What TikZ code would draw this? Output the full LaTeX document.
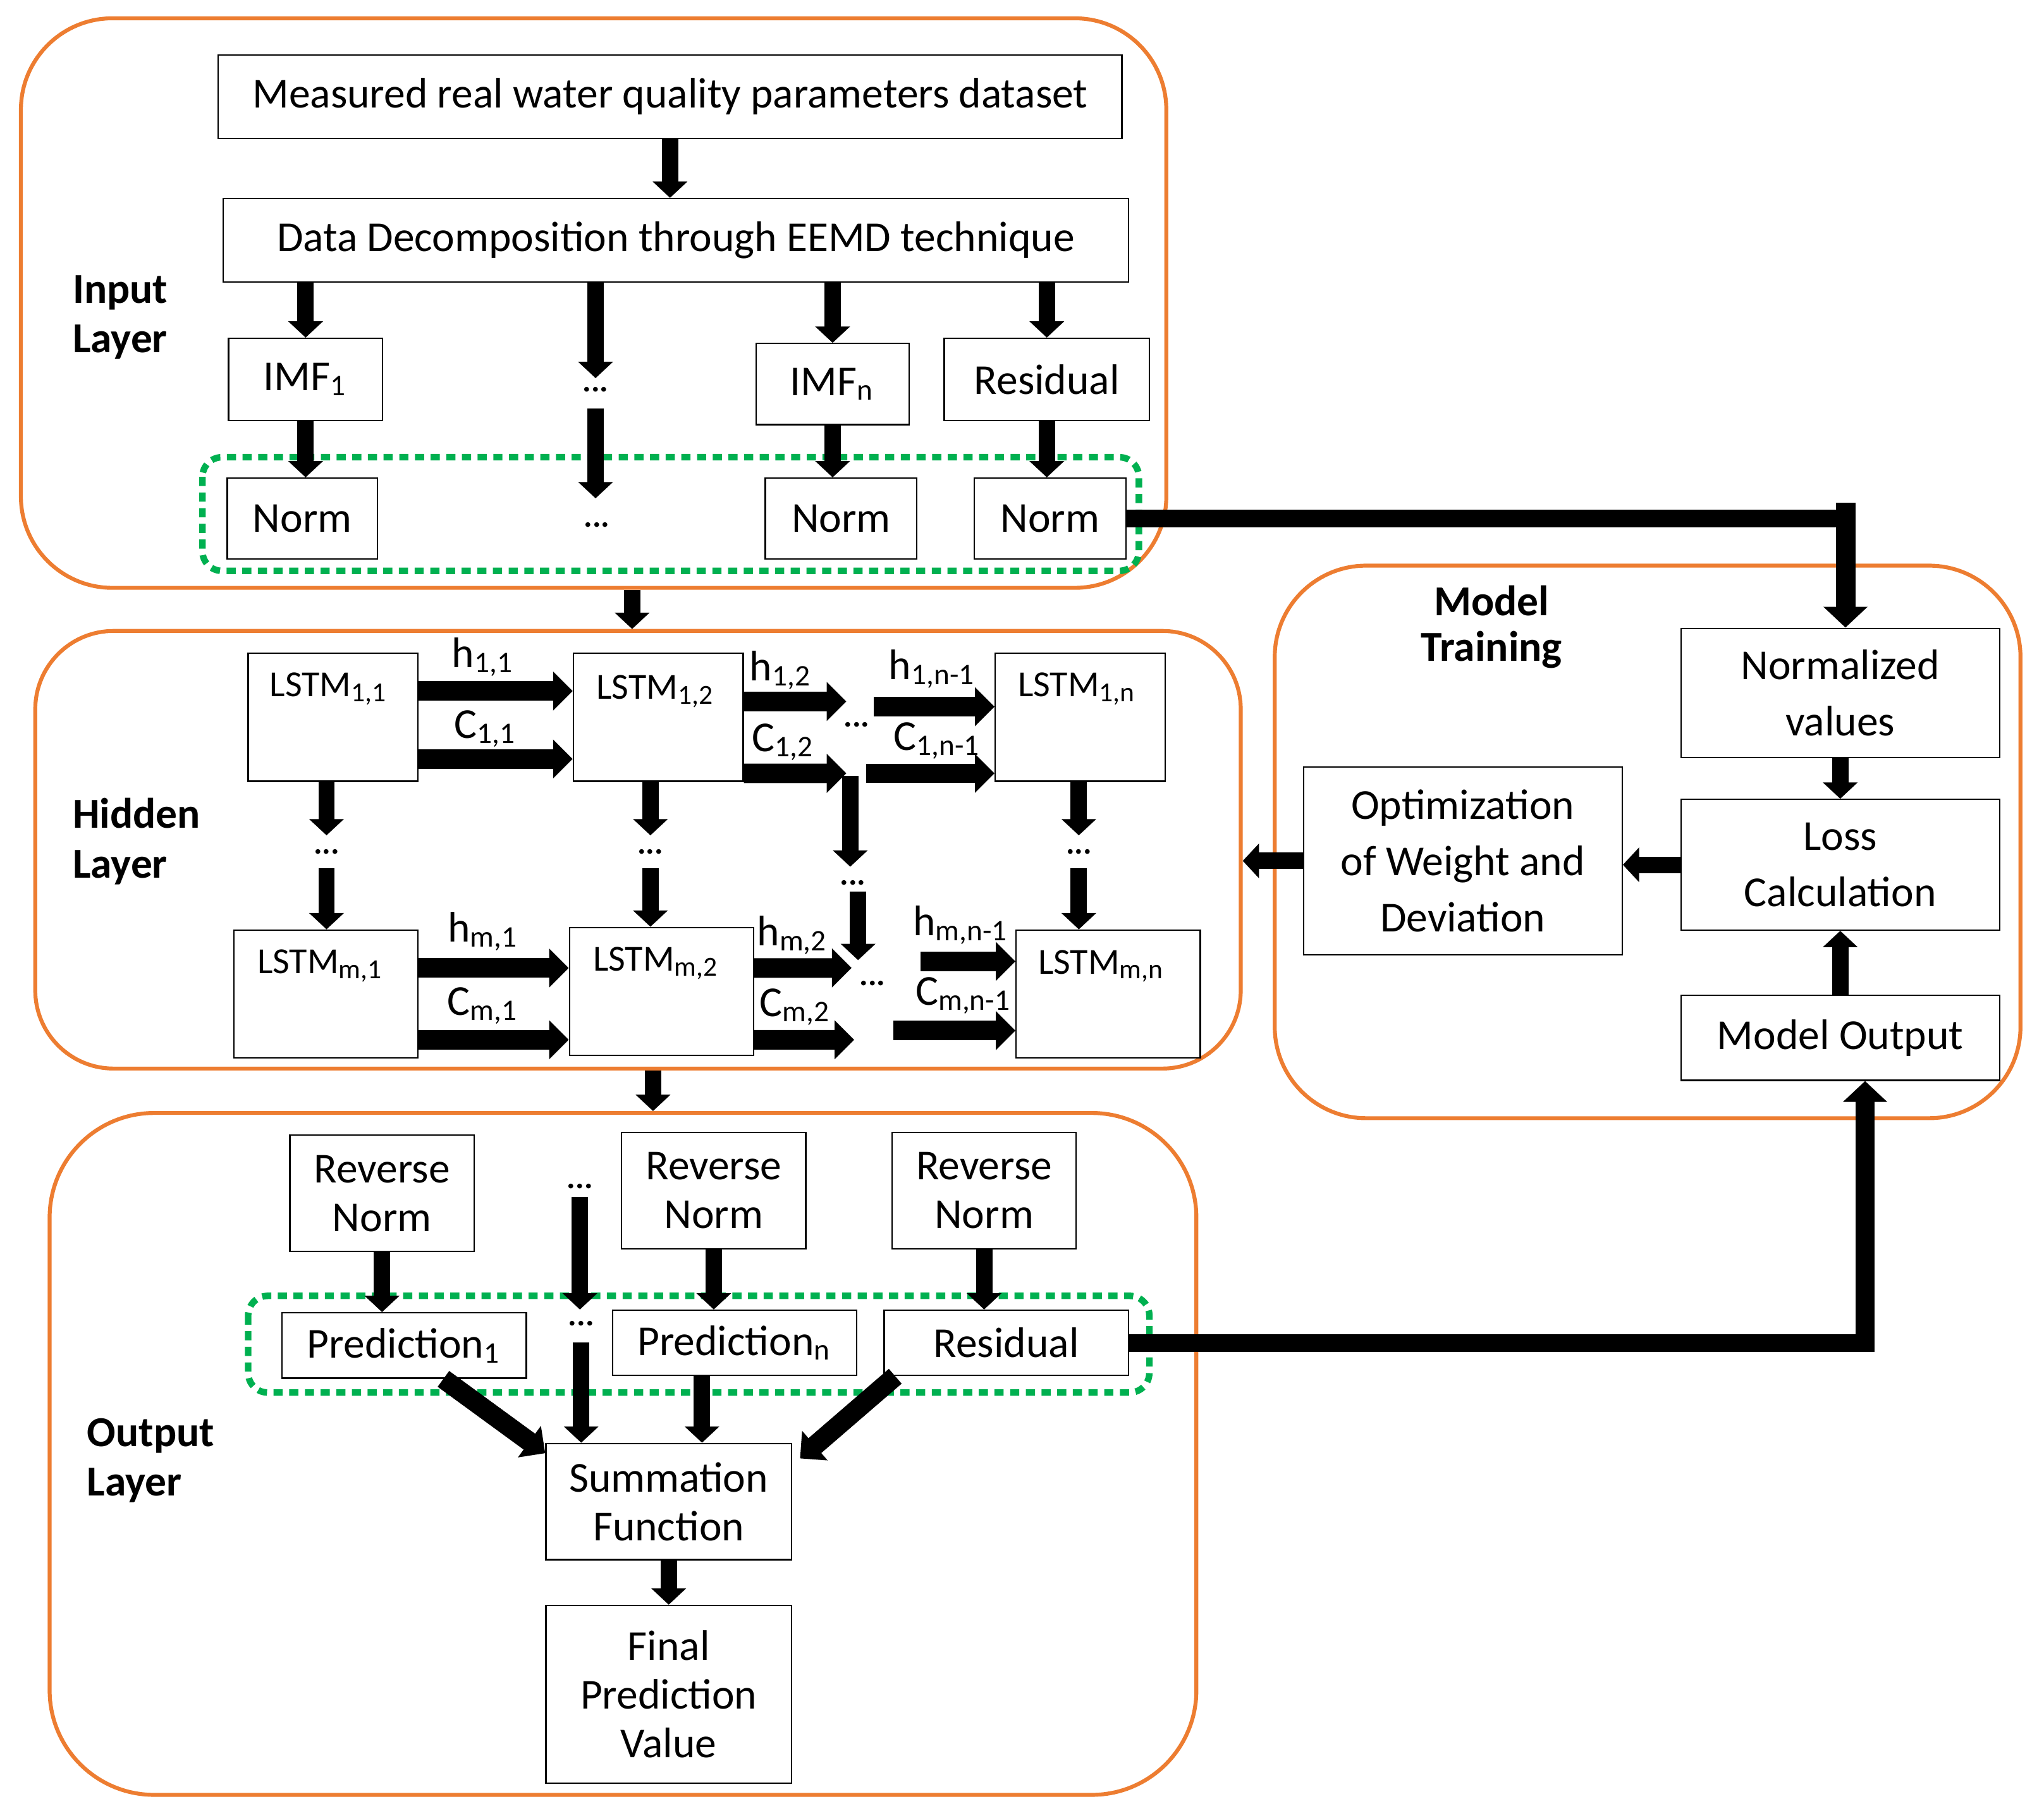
\documentclass[tikz,border=0pt]{standalone}
\usepackage{fontspec}
\setmainfont{Carlito}
\usetikzlibrary{arrows.meta}
\definecolor{layerorange}{RGB}{237,125,49}
\definecolor{groupgreen}{RGB}{0,176,80}
\tikzset{
    layer/.style={draw=layerorange, line width=0.3mm, inner sep=0pt},
    group/.style={draw=groupgreen, line width=0.5mm, dash pattern=on 0.7mm off 0.5mm, rounded corners=1.5mm},
    box/.style={draw, line width=0.11mm, inner sep=0pt, align=center, font=\fontsize{9.3}{10.6}\selectfont},
    trainbox/.style={box, font=\fontsize{9.3}{12.2}\selectfont},
    cellbox/.style={draw, line width=0.11mm, inner sep=0pt, minimum height=9.8mm},
    celltext/.style={inner sep=0pt, font=\fontsize{8}{9}\selectfont},
    statetext/.style={inner sep=0pt, font=\fontsize{9.3}{10}\selectfont},
    layername/.style={anchor=west, align=left, inner sep=0pt, font=\bfseries\fontsize{9.3}{10.8}\selectfont},
    trainname/.style={align=center, inner sep=0pt, font=\bfseries\fontsize{9.3}{10}\selectfont},
    dots/.style={inner sep=0pt, font=\bfseries\fontsize{7}{8}\selectfont},
    flow/.style={line width=1.25mm, -{Triangle[width=2.6mm,length=1.25mm]}},
    link/.style={line width=1.5mm, -{Triangle[width=2.9mm,length=1.5mm]}},
    bus/.style={line width=1.35mm},
    busflow/.style={line width=1.5mm, -{Triangle[width=3.3mm,length=1.6mm]}},
}
\begin{document}
\begin{tikzpicture}[x=0.1mm,y=-0.1mm]
            \useasboundingbox (0,0) rectangle (1565,1386);%

            % Layer frames
            \node[layer, rounded corners=7mm, minimum width=87.7mm, minimum height=43.6mm] (inputlayer) at (454.5,232) {};%
            \node[layer, rounded corners=6mm, minimum width=92.3mm, minimum height=33.5mm] (hiddenlayer) at (488.5,650.5) {};%
            \node[layer, rounded corners=8mm, minimum width=87.8mm, minimum height=52.2mm] (outputlayer) at (477,1113) {};%
            \node[layer, rounded corners=7mm, minimum width=57.1mm, minimum height=42.3mm] (traininglayer) at (1261.5,644.5) {};%

            % Groups of normalised values
            \draw[group] (155,350) rectangle (872,437);%
            \draw[group] (190,992) rectangle (880,1066);%

            % Layer names
            \node[layername] (inputname) at (55,243) {Input\\Layer};%
            \node[layername] (hiddenname) at (55,644) {Hidden\\Layer};%
            \node[layername] (outputname) at (66,1118) {Output\\Layer};%
            \node[trainname] (trainname) at (1142,480) {Model\\Training};%

            % Input layer boxes
            \node[box, minimum width=69.2mm, minimum height=6.4mm] (meas) at (513,74) {Measured real water quality parameters dataset};%
            \node[box, minimum width=69.3mm, minimum height=6.4mm] (decomp) at (517.5,184) {Data Decomposition through EEMD technique};%
            \node[box, minimum width=11.8mm, minimum height=6.3mm] (imf1) at (234,290.5) {IMF\textsubscript{1}};%
            \node[box, minimum width=11.7mm, minimum height=6.2mm] (imfn) at (637.5,294) {IMF\textsubscript{n}};%
            \node[box, minimum width=15.7mm, minimum height=6.3mm] (resid) at (801.5,290.5) {Residual};%
            \node[box, minimum width=11.5mm, minimum height=6.2mm] (norm1) at (231.5,397) {Norm};%
            \node[box, minimum width=11.6mm, minimum height=6.2mm] (norm2) at (644,397) {Norm};%
            \node[box, minimum width=11.6mm, minimum height=6.2mm] (norm3) at (804,397) {Norm};%
            \node[dots] (dotsa) at (456,298) {...};%
            \node[dots] (dotsb) at (457,402) {...};%

            % Input layer arrows
            \draw[flow] (meas.south) -- (meas.south |- decomp.north);%
            \draw[flow] (imf1.north |- decomp.south) -- (imf1.north);%
            \draw[flow, shorten >=0.6mm] (dotsa |- decomp.south) -- (dotsa.north);%
            \draw[flow] (imfn.north |- decomp.south) -- (imfn.north);%
            \draw[flow] (resid.north |- decomp.south) -- (resid.north);%
            \draw[flow] (imf1.south) -- (imf1.south |- norm1.north);%
            \draw[flow, shorten <=1.2mm, shorten >=1.8mm] (dotsa.south) -- (dotsa.south |- dotsb.north);%
            \draw[flow] (imfn.south) -- (imfn.south |- norm2.north);%
            \draw[flow] (resid.south) -- (resid.south |- norm3.north);%

            % Hidden layer cells
            \node[cellbox, minimum width=13.0mm] (l11) at (255,549) {};%
            \node[cellbox, minimum width=13.0mm] (l12) at (504,549) {};%
            \node[cellbox, minimum width=13.0mm] (l1n) at (827,549) {};%
            \node[cellbox, minimum width=14.1mm] (lm1) at (249.5,761) {};%
            \node[cellbox, minimum width=14.1mm] (lm2) at (506.5,759) {};%
            \node[cellbox, minimum width=14.1mm] (lmn) at (848.5,761) {};%
            \path (l11.north) ++(-3,28) node[celltext] (l11text) {LSTM\textsubscript{1,1}};%
            \path (l12.north) ++(-2,30) node[celltext] (l12text) {LSTM\textsubscript{1,2}};%
            \path (l1n.north) ++(-2,28) node[celltext] (l1ntext) {LSTM\textsubscript{1,n}};%
            \path (lm1.north) ++(-4,28) node[celltext] (lm1text) {LSTM\textsubscript{m,1}};%
            \path (lm2.north) ++(-4,28) node[celltext] (lm2text) {LSTM\textsubscript{m,2}};%
            \path (lmn.north) ++(-5,28) node[celltext] (lmntext) {LSTM\textsubscript{m,n}};%

            % Hidden and cell states
            \node[statetext] (h11) at (370,503) {h\textsubscript{1,1}};%
            \node[statetext] (c11) at (372,558) {C\textsubscript{1,1}};%
            \node[statetext] (h12) at (598,513) {h\textsubscript{1,2}};%
            \node[statetext] (c12) at (600,568) {C\textsubscript{1,2}};%
            \node[statetext] (h1n) at (714,512) {h\textsubscript{1,n-1}};%
            \node[statetext] (c1n) at (718,567) {C\textsubscript{1,n-1}};%
            \node[statetext] (hm1) at (370,713) {h\textsubscript{m,1}};%
            \node[statetext] (cm1) at (370,770) {C\textsubscript{m,1}};%
            \node[statetext] (hm2) at (607,716) {h\textsubscript{m,2}};%
            \node[statetext] (cm2) at (609,771) {C\textsubscript{m,2}};%
            \node[statetext] (hmn) at (736,708) {h\textsubscript{m,n-1}};%
            \node[statetext] (cmn) at (738,762) {C\textsubscript{m,n-1}};%
            \node[dots] (dotsr1) at (656,555) {...};%
            \node[dots] (dotsr2) at (668,753) {...};%
            \node[dots] (dotsc1) at (250,652) {...};%
            \node[dots] (dotsc2) at (498,652) {...};%
            \node[dots] (dotsc3) at (826,652) {...};%
            \node[dots] (dotsv) at (653,676) {...};%
            \coordinate (h12end) at (648,537);%
            \coordinate (c12end) at (648,592);%
            \coordinate (h1nstart) at (669,541);%
            \coordinate (c1nstart) at (663,592);%
            \coordinate (hm2end) at (652,741);%
            \coordinate (cm2end) at (654,796);%
            \coordinate (hmnstart) at (705,736);%
            \coordinate (cmnstart) at (684,789);%
            \coordinate (vdown) at (651,594);%
            \coordinate (vup) at (657,735);%

            % Arrows along the first row
            \draw[link] ([yshift=2mm]l11.east) -- ([yshift=2mm]l11.east -| l12.west);%
            \draw[link] ([yshift=-3.2mm]l11.east) -- ([yshift=-3.2mm]l11.east -| l12.west);%
            \draw[link] ([yshift=1.2mm]l12.east) -- (h12end);%
            \draw[link] ([yshift=-4.3mm]l12.east) -- (c12end);%
            \draw[link] (h1nstart) -- (h1nstart -| l1n.west);%
            \draw[link] (c1nstart) -- (c1nstart -| l1n.west);%

            % Arrows along the last row
            \draw[link] ([yshift=2mm]lm1.east) -- ([yshift=2mm]lm1.east -| lm2.west);%
            \draw[link] ([yshift=-3.5mm]lm1.east) -- ([yshift=-3.5mm]lm1.east -| lm2.west);%
            \draw[link] ([yshift=1.8mm]lm2.east) -- (hm2end);%
            \draw[link] ([yshift=-3.7mm]lm2.east) -- (cm2end);%
            \draw[link] (hmnstart) -- (hmnstart -| lmn.west);%
            \draw[link] (cmnstart) -- (cmnstart -| lmn.west);%

            % Arrows down the columns
            \draw[flow, shorten >=1mm] (dotsc1 |- l11.south) -- (dotsc1.north);%
            \draw[flow, shorten <=1mm] (dotsc1.south) -- (dotsc1 |- lm1.north);%
            \draw[flow, shorten >=1mm] (dotsc2 |- l12.south) -- (dotsc2.north);%
            \draw[flow, shorten <=1mm] (dotsc2.south) -- (dotsc2 |- lm2.north);%
            \draw[flow, shorten >=1mm] (dotsc3 |- l1n.south) -- (dotsc3.north);%
            \draw[flow, shorten <=1mm] (dotsc3.south) -- (dotsc3 |- lmn.north);%
            \draw[flow, shorten >=1mm] (vdown) -- (vdown |- dotsv.north);%
            \draw[flow, shorten <=0.4mm] (vup |- dotsv.south) -- (vup);%

            % Output layer boxes
            \node[box, minimum width=14.1mm, minimum height=8.9mm] (rn1) at (292.5,913.5) {Reverse\\Norm};%
            \node[box, minimum width=14.1mm, minimum height=8.9mm] (rn2) at (546.5,911.5) {Reverse\\Norm};%
            \node[box, minimum width=14.1mm, minimum height=8.9mm] (rn3) at (753.5,911.5) {Reverse\\Norm};%
            \node[box, minimum width=18.7mm, minimum height=5.0mm] (pred1) at (309.5,1030) {Prediction\textsubscript{1}};%
            \node[box, minimum width=18.7mm, minimum height=5.0mm] (predn) at (562.5,1028) {Prediction\textsubscript{n}};%
            \node[box, minimum width=18.7mm, minimum height=5.0mm] (resid2) at (770.5,1028) {Residual};%
            \node[box, minimum width=18.8mm, minimum height=8.9mm] (sum) at (512,1149.5) {Summation\\Function};%
            \node[box, minimum width=18.8mm, minimum height=13.6mm] (final) at (512,1297) {Final\\Prediction\\Value};%
            \node[dots] (dotso1) at (444,908) {...};%
            \node[dots] (dotso2) at (445,1013) {...};%

            % Output layer arrows
            \draw[flow] (rn1.south) -- (rn1.south |- pred1.north);%
            \draw[flow] (rn2.south) -- (rn2.south |- predn.north);%
            \draw[flow] (rn3.south) -- (rn3.south |- resid2.north);%
            \draw[flow, shorten <=0.6mm, shorten >=0.8mm] (dotso1.south) -- (dotso1.south |- dotso2.north);%
            \draw[flow, shorten <=1.2mm] (dotso2.south) -- (dotso2 |- sum.north);%
            \draw[link] ([xshift=3mm]pred1.south) -- ([yshift=-0.8mm]sum.north west);%
            \draw[flow] ([xshift=-2.5mm]predn.south) -- ([xshift=-2.5mm]predn.south |- sum.north);%
            \draw[link] ([xshift=0.9mm]resid2.south west) -- ([xshift=0.6mm,yshift=-1.2mm]sum.north east);%
            \draw[flow] (sum.south) -- (final.north);%

            % Model training boxes
            \node[trainbox, minimum width=24.4mm, minimum height=9.9mm] (normv) at (1409,530.5) {Normalized\\values};%
            \node[trainbox, minimum width=24.4mm, minimum height=10.0mm] (loss) at (1409,662) {Loss\\Calculation};%
            \node[trainbox, minimum width=24.4mm, minimum height=6.5mm] (mout) at (1409,794.5) {Model Output};%
            \node[trainbox, minimum width=24.4mm, minimum height=14.4mm] (opt) at (1120,659) {Optimization\\of Weight and\\Deviation};%

            % Model training arrows
            \draw[flow] (normv.south) -- (loss.north);%
            \draw[flow] (mout.north) -- (loss.south);%
            \draw[flow] (loss.west) -- (loss.west -| opt.east);%
            \draw[flow] (opt.west) -- (opt.west -| hiddenlayer.east);%

            % Arrows between the layers
            \coordinate (inhid) at (484,0);%
            \coordinate (hidout) at (500,0);%
            \draw[flow] (inhid |- inputlayer.south) -- (inhid |- hiddenlayer.north);%
            \draw[flow] (hidout |- hiddenlayer.south) -- (hidout |- outputlayer.north);%

            % Connections to model training
            \coordinate (busin) at (1413,397);%
            \coordinate (busout) at (1428,1028);%
            \draw[bus] (norm3.east) -- (busin);%
            \draw[busflow] ([yshift=1.2mm]busin) -- (busin |- normv.north);%
            \draw[bus] (resid2.east) -- (busout);%
            \draw[busflow] ([yshift=-0.7mm]busout) -- (busout |- mout.south);%
\end{tikzpicture}
\end{document}
